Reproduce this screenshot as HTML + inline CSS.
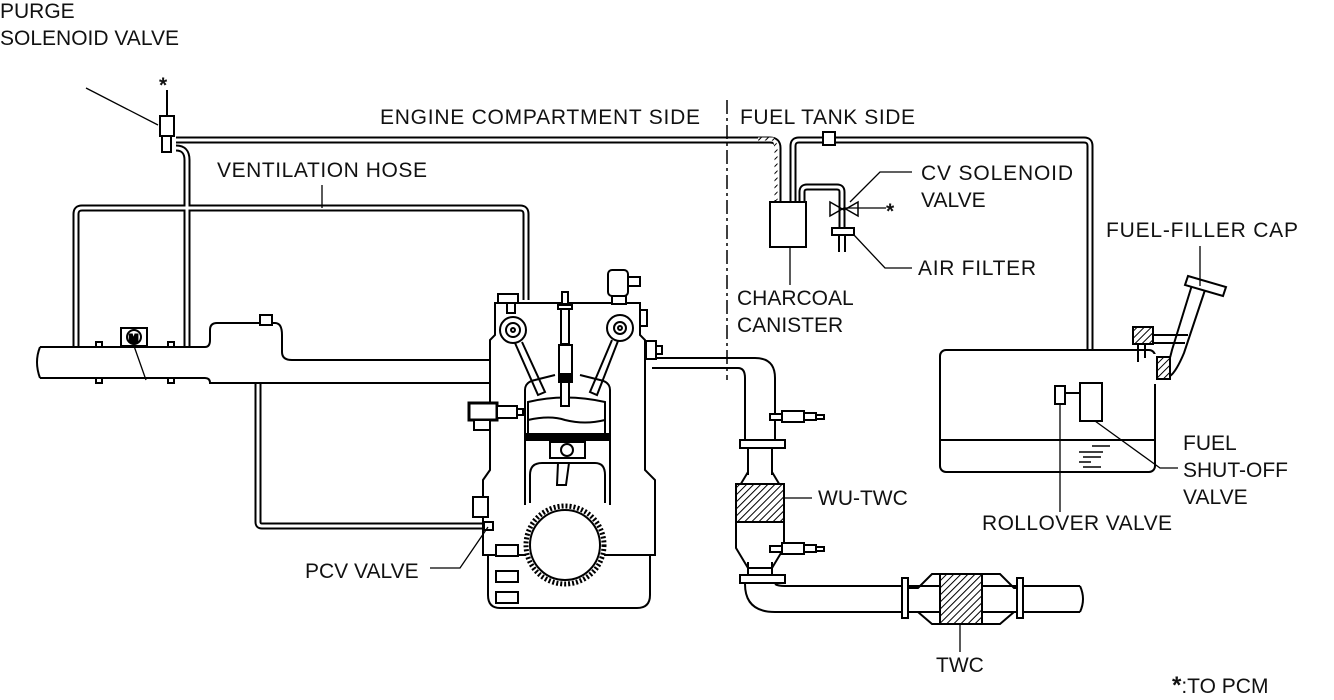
<!DOCTYPE html>
<html><head><meta charset="utf-8"><style>
html,body{margin:0;padding:0;background:#fff;}
svg{display:block;}
text{font-family:"Liberation Sans",Arial,sans-serif;font-size:21px;fill:#111;}
</style></head><body>
<svg width="1334" height="700" viewBox="0 0 1334 700" xmlns="http://www.w3.org/2000/svg">
<defs>
<pattern id="h" width="5" height="5" patternUnits="userSpaceOnUse" patternTransform="rotate(45)">
<rect width="5" height="5" fill="#fff"/><line x1="0" y1="0" x2="0" y2="5" stroke="#000" stroke-width="2"/></pattern>
</defs>
<g fill="none" stroke-linejoin="round">
<g stroke="#000" stroke-width="7">
<path d="M176,140 H770 Q778,140 778,148 V202"/>
<path d="M176,148 Q187,148 187,160 V347"/>
<path d="M76,347 V214 Q76,208 82,208 H520 Q526,208 526,214 V300"/>
<path d="M793,202 V146 Q793,140 799,140 H1084 Q1090,140 1090,146 V384"/>
<path d="M802,202 V192 Q802,187 807,187 H837 Q842,187 842,192 V228"/>
<path d="M258,384 V522 Q258,526 262,526 H486"/>
</g>
<g stroke="#fff" stroke-width="3">
<path d="M176,140 H770 Q778,140 778,148 V202"/>
<path d="M176,148 Q187,148 187,160 V347"/>
<path d="M76,347 V214 Q76,208 82,208 H520 Q526,208 526,214 V300"/>
<path d="M793,202 V146 Q793,140 799,140 H1084 Q1090,140 1090,146 V384"/>
<path d="M802,202 V192 Q802,187 807,187 H837 Q842,187 842,192 V228"/>
<path d="M258,384 V522 Q258,526 262,526 H486"/>
</g>
<path d="M758,139 H773 Q776,142 776,150 V200" stroke="url(#h)" stroke-width="3"/>
</g>
<g fill="none" stroke="#000" stroke-width="2">
<line x1="727" y1="100" x2="727" y2="380" stroke-dasharray="14,4,3,4" stroke-width="1.5"/>
<rect x="160" y="116" width="14" height="20" fill="#fff"/>
<rect x="162" y="136" width="9" height="16" fill="#fff"/>
<line x1="167" y1="90" x2="167" y2="116"/>
<line x1="86" y1="88" x2="158" y2="125" stroke-width="1.3"/>
<path d="M40,347 H205 Q210,347 210,340 V330 Q210,323 217,323 H275 Q282,323 282,335 V352 Q282,360 292,360 H490"/>
<path d="M40,378 H205 Q210,378 210,383 H490"/>
<path d="M40,347 Q34,362 40,378"/>
<path d="M96,347 v-5 h6 v5 M168,347 v-5 h6 v5 M96,378 v5 h6 v-5 M168,378 v5 h6 v-5"/>
<rect x="260" y="315" width="12" height="10" fill="#fff"/>
<rect x="121" y="328" width="26" height="18" fill="#fff"/>
<circle cx="134" cy="337" r="7"/>
<text x="129" y="342" style="font-size:11px;font-weight:bold">M</text>
<line x1="134" y1="346" x2="146" y2="380" stroke-width="1.3"/>
<!-- exhaust -->
<path d="M652,358 H755 Q775,358 775,378 V440 M652,368 H738 Q745,368 745,378 V440"/>
<path d="M748,450 V475 M772,450 V475 M748,562 V578 M772,562 V578"/>
<path d="M745,584 Q745,612 775,612 H1080 M775,584 Q778,586 785,586 H1080"/>
<path d="M1080,586 Q1086,599 1080,612"/>
<rect x="740" y="440" width="45" height="8" fill="#fff"/>
<rect x="740" y="575" width="45" height="8" fill="#fff"/>
<path d="M748,448 V472 L736,492 V548 L748,568 H772 L784,548 V492 L772,472 V448"/>
<rect x="736" y="484" width="48" height="38" fill="url(#h)"/>
<line x1="736" y1="484" x2="784" y2="484"/><line x1="736" y1="522" x2="784" y2="522"/>
<g fill="#fff"><rect x="770" y="414" width="12" height="6"/><rect x="782" y="411" width="22" height="11"/><rect x="804" y="413" width="12" height="7"/><rect x="816" y="415" width="8" height="4"/>
<rect x="770" y="546" width="12" height="6"/><rect x="782" y="543" width="22" height="11"/><rect x="804" y="545" width="12" height="7"/><rect x="816" y="547" width="8" height="4"/></g>
<rect x="902" y="578" width="6" height="40" fill="#fff"/>
<path d="M908,588 H918 L932,574 H1000 L1014,588 H1017 V612 H1014 L1000,624 H932 L918,612 H908"/>
<rect x="940" y="574" width="42" height="50" fill="url(#h)"/>
<rect x="1017" y="578" width="6" height="40" fill="#fff"/>
<!-- engine -->
<path d="M495,303 H640 V335 L645,340 V470 L655,480 V555 H650 V595 Q650,608 637,608 H500 Q488,608 488,595 V555 H483 V480 L490,470 V340 L495,335 Z" fill="#fff"/>
<line x1="483" y1="555" x2="526" y2="555"/><line x1="604" y1="555" x2="655" y2="555"/>
<path d="M525,505 V390 Q525,382 535,380 L555,375 M610,505 V390 Q610,382 600,380 L580,375"/>
<path d="M528,402 Q565,393 605,402 V438 L528,438 Z"/>
<path d="M528,420 Q550,415 565,420 Q585,425 605,420"/>
<rect x="525" y="434" width="85" height="6" fill="#000"/>
<rect x="550" y="442" width="35" height="16"/><circle cx="567" cy="450" r="6"/>
<path d="M530,503 V475 Q530,463 542,463 H595 Q605,463 605,475 V503"/>
<path d="M558,463 L557,485 L566,485 L569,463"/>
<circle cx="565" cy="545" r="35"/>
<circle cx="565" cy="545" r="39" stroke-dasharray="2,2" stroke-width="5"/>
<circle cx="513" cy="330" r="13"/><circle cx="513" cy="330" r="7"/><circle cx="513" cy="330" r="2"/>
<circle cx="620" cy="328" r="13"/><circle cx="620" cy="328" r="6"/><circle cx="620" cy="328" r="2"/>
<path d="M515,343 L538,395 L545,392 L522,342 M618,341 L597,395 L590,392 L612,340"/>
<rect x="498" y="294" width="20" height="9" fill="#fff"/><rect x="507" y="303" width="8" height="10" fill="#fff"/>
<rect x="608" y="270" width="20" height="26" rx="4" fill="#fff"/><rect x="628" y="277" width="12" height="9" fill="#fff"/>
<rect x="612" y="296" width="14" height="8" fill="#fff"/>
<rect x="640" y="310" width="7" height="16" fill="#fff"/>
<rect x="646" y="341" width="10" height="18" fill="#fff"/><rect x="656" y="346" width="6" height="8" fill="#fff"/>
<rect x="562" y="292" width="6" height="12" fill="#fff"/><rect x="558" y="305" width="14" height="4" fill="#fff"/>
<rect x="561" y="309" width="8" height="35" fill="#fff"/><rect x="559" y="345" width="13" height="35" fill="#fff"/>
<rect x="559" y="374" width="13" height="8" fill="#000"/><rect x="561" y="382" width="8" height="24" fill="#fff"/>
<rect x="469" y="403" width="28" height="17" stroke-width="3" fill="#fff"/><rect x="474" y="420" width="16" height="10" fill="#fff"/>
<rect x="497" y="406" width="20" height="12" fill="#fff"/><rect x="517" y="409" width="6" height="6" fill="#fff"/>
<rect x="473" y="497" width="15" height="20" fill="#fff"/>
<rect x="484" y="522" width="9" height="8" fill="#fff"/>
<rect x="496" y="545" width="22" height="11" fill="#fff"/><rect x="496" y="571" width="22" height="11" fill="#fff"/><rect x="496" y="592" width="22" height="11" fill="#fff"/>
<!-- canister & CV -->
<rect x="770" y="202" width="36" height="45" fill="#fff"/>
<rect x="823" y="132" width="12" height="13" fill="#fff"/>
<path d="M830,202 L844,210 L858,202 V216 L844,208 L830,216 Z" stroke-width="1.5"/>
<line x1="844" y1="208" x2="886" y2="208" stroke-width="1.3"/>
<rect x="832" y="228" width="22" height="7" fill="#fff"/><path d="M839,235 V252 M845,235 V252"/>
<!-- tank -->
<rect x="940" y="350" width="215" height="122" rx="6" fill="#fff"/>
<line x1="940" y1="440" x2="1155" y2="440"/>
<rect x="1150" y="354" width="8" height="30" fill="#fff" stroke="none"/>
<path d="M1079,452 h24 M1083,457 h18 M1079,462 h12 M1083,467 h18 M1092,446 h18" stroke-width="1.5"/>
<rect x="1080" y="383" width="22" height="38" fill="#fff"/>
<rect x="1055" y="386" width="10" height="18" fill="#fff"/><line x1="1065" y1="393" x2="1080" y2="393"/>
<path d="M1192,285 L1172,350 Q1166,375 1160,378 M1205,290 L1184,353 Q1176,372 1170,376"/>
<path d="M1188,276 L1226,287 L1223,296 L1185,285 Z" fill="#fff"/>
<path d="M1152,335 H1188 M1152,343 H1185"/>
<rect x="1133" y="327" width="20" height="17" fill="url(#h)"/>
<rect x="1157" y="357" width="13" height="22" fill="url(#h)"/>
<path d="M1138,344 V362 M1145,344 V358"/>
<g stroke-width="1.3">
<line x1="322" y1="185" x2="322" y2="208"/>
<path d="M790,247 V285"/>
<path d="M850,202 L880,172 H912"/>
<path d="M854,235 L885,268 H912"/>
<path d="M1200,246 V286"/>
<path d="M1095,421 L1160,468 H1178"/>
<line x1="1060" y1="404" x2="1060" y2="512"/>
<line x1="784" y1="498" x2="812" y2="498"/>
<line x1="960" y1="624" x2="960" y2="652"/>
<path d="M488,527 L460,568 H430"/>
</g>
</g>
<g style="font-size:24px;font-weight:bold"><text x="159" y="92">*</text><text x="886" y="218">*</text></g>
<text x="0" y="18">PURGE</text>
<text x="0" y="45">SOLENOID VALVE</text>
<text x="380" y="124" textLength="320">ENGINE COMPARTMENT SIDE</text>
<text x="740" y="124" textLength="175">FUEL TANK SIDE</text>
<text x="217" y="177" textLength="210">VENTILATION HOSE</text>
<text x="921" y="180" textLength="152">CV SOLENOID</text>
<text x="921" y="207">VALVE</text>
<text x="1106" y="237" textLength="192">FUEL-FILLER CAP</text>
<text x="918" y="275" textLength="118">AIR FILTER</text>
<text x="737" y="305">CHARCOAL</text>
<text x="737" y="332">CANISTER</text>
<text x="1183" y="450">FUEL</text>
<text x="1183" y="477">SHUT-OFF</text>
<text x="1183" y="504">VALVE</text>
<text x="818" y="505">WU-TWC</text>
<text x="982" y="530" textLength="190">ROLLOVER VALVE</text>
<text x="305" y="578">PCV VALVE</text>
<text x="936" y="672">TWC</text>
<text x="1172" y="693"><tspan style="font-size:24px;font-weight:bold">*</tspan>:TO PCM</text>
</svg>
</body></html>
